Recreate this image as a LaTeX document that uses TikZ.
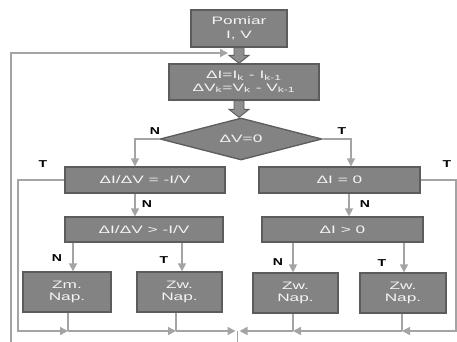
\documentclass[tikz,border=0pt]{standalone}
\usepackage{fontspec}
\setmainfont{Liberation Sans}
\usetikzlibrary{arrows.meta,shapes.geometric,calc}
\definecolor{boxfill}{HTML}{838383}
\definecolor{boxedge}{HTML}{5C5C5C}
\definecolor{fatfill}{HTML}{8E8E8E}
\definecolor{linec}{HTML}{A4A4A4}
\definecolor{txt}{HTML}{F4F4F4}
\newcommand\sx[1]{\scalebox{1.6}[1]{#1}}
\newcommand\lb[1]{\scalebox{1.4}[1]{#1}}
\newcommand\fatarr[2]{\path[fat] let \p1=(#1), \p2=(#2) in
  (\x1-5pt,\y1) -- (\x1+5pt,\y1) -- (\x1+5pt,\y2+8pt) -- (\x1+10pt,\y2+8pt)
  -- (\x1,\y2) -- (\x1-10pt,\y2+8pt) -- (\x1-5pt,\y2+8pt) -- cycle;}
\begin{document}
\begin{tikzpicture}[x=1pt,y=-1pt,
 box/.style={draw=boxedge, fill=boxfill, line width=1.3pt, inner sep=0pt, text=txt,
   font=\fontsize{10.8}{12.5}\selectfont, align=center},
 fat/.style={draw=boxedge, fill=fatfill, line width=0.9pt},
 ln/.style={draw=linec, line width=1.5pt},
 arr/.style={ln, -{Triangle[length=8pt,width=8pt]}},
 lab/.style={font=\bfseries\fontsize{10}{11}\selectfont, inner sep=0pt}
]
\useasboundingbox (0,0) rectangle (457,342);

% boxes
\node[box, minimum width=96pt, minimum height=37pt] (pom) at (239,28.5) {\sx{Pomiar}\\[1pt]\sx{I, V}};
\node[box, minimum width=150pt, minimum height=36pt] (dl) at (244,82)
  {\sx{ΔI=I\textsubscript{k} - I\textsubscript{k-1}}\\\sx{ΔV\textsubscript{k}=V\textsubscript{k} - V\textsubscript{k-1}}};
\node[box, diamond, aspect=3.9, minimum width=162pt, minimum height=42pt] (dia) at (241,139) {\sx{ΔV=0}};
\node[box, minimum width=160pt, minimum height=26pt] (c1) at (145,180) {\sx{ΔI/ΔV = -I/V}};
\node[box, minimum width=161pt, minimum height=26pt] (c2) at (339.5,180) {\sx{ΔI = 0}};
\node[box, minimum width=158pt, minimum height=25pt] (d1) at (144,229.5) {\sx{ΔI/ΔV > -I/V}};
\node[box, minimum width=161pt, minimum height=25pt] (d2) at (342.5,229.5) {\sx{ΔI > 0}};
\node[box, minimum width=88pt, minimum height=40pt] (e1) at (67,292) {\sx{Zm.}\\\sx{Nap.}};
\node[box, minimum width=85pt, minimum height=40pt] (e2) at (179.5,292) {\sx{Zw.}\\\sx{Nap.}};
\node[box, minimum width=85pt, minimum height=40pt] (e3) at (295.5,293) {\sx{Zw.}\\\sx{Nap.}};
\node[box, minimum width=86pt, minimum height=40pt] (e4) at (403,293) {\sx{Zw.}\\\sx{Nap.}};

% fat arrows
\fatarr{pom.south}{pom.south |- dl.north}
\coordinate (f2) at (pom.south |- dl.south);
\fatarr{f2}{pom.south |- dia.north}

% diamond branches
\draw[arr] (dia.west) -| ($(c1.north)+(-10,0)$);
\draw[arr] (dia.east) -| ($(c2.north)+(11.5,0)$);
\coordinate (p1) at ($(c1.south)+(-10,0)$);
\draw[arr] (p1) -- (p1 |- d1.north);
\coordinate (p2) at ($(c2.south)+(9.5,0)$);
\draw[arr] (p2) -- (p2 |- d2.north);
\coordinate (q1) at ($(d1.south)+(-71,0)$);
\draw[arr] (q1) -- (q1 |- e1.north);
\coordinate (q2) at ($(d1.south)+(38,0)$);
\draw[arr] (q2) -- (q2 |- e2.north);
\coordinate (q3) at ($(d2.south)+(-49.5,0)$);
\draw[arr] (q3) -- (q3 |- e3.north);
\coordinate (q4) at ($(d2.south)+(61.5,0)$);
\draw[arr] (q4) -- (q4 |- e4.north);

% bottom collector
\coordinate (j1) at (68,331);
\coordinate (j2) at (176,331);
\coordinate (j3) at (293,331);
\coordinate (j4) at (402,331);
\coordinate (ml) at (235.5,331);
\coordinate (mr) at (239.5,331);
\coordinate (mc) at (237.5,331);
\coordinate (mb) at (237.5,342);
\coordinate (lt) at (18,331);
\coordinate (rt) at (456,331);
\draw[ln] (e1.south -| j1) -- (j1);
\draw[ln] (e2.south -| j2) -- (j2);
\draw[ln] (e3.south -| j3) -- (j3);
\draw[ln] (e4.south -| j4) -- (j4);
\draw[arr] (c1.west) -| (lt) -- (j1);
\draw[arr] (j1) -- (j2);
\draw[arr] (j2) -- (ml);
\draw[arr] (c2.east) -| (rt) -- (j4);
\draw[arr] (j4) -- (j3);
\draw[arr] (j3) -- (mr);
\draw[ln] (mc) -- (mb);

% outer loop
\coordinate (lb) at (11,342);
\coordinate (lc) at (11,53);
\coordinate (la) at (228,53);
\draw[arr] (lb) -- (lc) -- (la);

% labels
\node[lab] (n0) at (155,131) {\lb{N}};
\node[lab] (t0) at (342,131) {\lb{T}};
\node[lab] (t1) at (43,164) {\lb{T}};
\node[lab] (t2) at (447,164) {\lb{T}};
\node[lab] (n1) at (147,204) {\lb{N}};
\node[lab] (n2) at (365,204) {\lb{N}};
\node[lab] (n3) at (57,258) {\lb{N}};
\node[lab] (t3) at (164,260) {\lb{T}};
\node[lab] (n4) at (278,262) {\lb{N}};
\node[lab] (t4) at (382,263) {\lb{T}};
\end{tikzpicture}
\end{document}
